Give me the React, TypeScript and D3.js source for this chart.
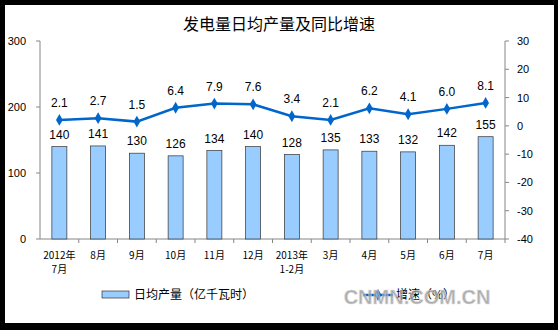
import React from "react";
import * as d3 from "d3";

const categories = ["2012年\n7月", "8月", "9月", "10月", "11月", "12月", "2013年\n1-2月", "3月", "4月", "5月", "6月", "7月"];
const dailyOutput = [140, 141, 130, 126, 134, 140, 128, 135, 133, 132, 142, 155];
const growth = [2.1, 2.7, 1.5, 6.4, 7.9, 7.6, 3.4, 2.1, 6.2, 4.1, 6.0, 8.1];
const leftTicks = [0, 100, 200, 300];
const rightTicks = [30, 20, 10, 0, -10, -20, -30, -40];

const W = 558, H = 330;
const L = 40, R = 505, T = 41, B = 239;
const numFont = "'Liberation Sans', Arial, sans-serif";
const cjkFont = "'Noto Sans CJK SC', 'Liberation Sans', sans-serif";

export default function App() {
  const x = d3.scaleBand<string>().domain(categories.map((_, i) => String(i))).range([L, R]);
  const yL = d3.scaleLinear().domain([0, 300]).range([B, T]);
  const yR = d3.scaleLinear().domain([-40, 30]).range([B, T]);
  const bw = 15;
  const cx = (i: number) => (x(String(i)) as number) + x.bandwidth() / 2;
  const line = d3.line<number>().x((_, i) => cx(i)).y((d) => yR(d));
  const diamond = d3.symbol().type(d3.symbolDiamond).size(40)() as string;

  return (
    <svg width={W} height={H} style={{ position: "absolute", left: 0, top: 0 }}>
      <rect x={0} y={0} width={W} height={H} fill="#000" />
      <rect x={5} y={5} width={549} height={318} fill="#fff" />
      <text x={279} y={30} textAnchor="middle" fontFamily={cjkFont} fontSize={16} fill="#000">发电量日均产量及同比增速</text>

      {/* left axis */}
      <line x1={L} x2={L} y1={T} y2={B} stroke="#868686" />
      {leftTicks.map((t) => (
        <g key={t}>
          <line x1={L - 4} x2={L} y1={yL(t)} y2={yL(t)} stroke="#868686" />
          <text x={L - 14} y={yL(t) + 4} textAnchor="end" fontFamily={numFont} fontSize={11} fill="#000">{t}</text>
        </g>
      ))}
      {/* right axis */}
      <line x1={R} x2={R} y1={T} y2={B} stroke="#868686" />
      {rightTicks.map((t) => (
        <g key={t}>
          <line x1={R} x2={R + 4} y1={yR(t)} y2={yR(t)} stroke="#868686" />
          <text x={R + 12} y={yR(t) + 4} textAnchor="start" fontFamily={numFont} fontSize={11} fill="#000">{t}</text>
        </g>
      ))}
      {/* x axis */}
      <line x1={L} x2={R} y1={B} y2={B} stroke="#868686" />
      {categories.map((c, i) => (
        <line key={"t" + i} x1={(x(String(i)) as number) + x.bandwidth()} x2={(x(String(i)) as number) + x.bandwidth()} y1={B} y2={B + 4} stroke="#868686" />
      ))}
      {categories.map((c, i) => {
        const parts = c.split("\n");
        return (
          <text key={"c" + i} textAnchor="middle" fontFamily={cjkFont} fontSize={10} fill="#000">
            {parts.map((p, j) => (
              <tspan key={j} x={cx(i)} y={259 + j * 14}>{p}</tspan>
            ))}
          </text>
        );
      })}

      {/* bars */}
      {dailyOutput.map((v, i) => (
        <g key={"b" + i}>
          <rect x={cx(i) - bw / 2} y={yL(v)} width={bw} height={B - yL(v)} fill="#99CCFF" stroke="#333" strokeWidth={0.7} />
          <text x={cx(i)} y={yL(v) - 8} textAnchor="middle" fontFamily={numFont} fontSize={12} fill="#000">{v}</text>
        </g>
      ))}

      {/* line */}
      <path d={line(growth) as string} fill="none" stroke="#0066CC" strokeWidth={2.5} />
      {growth.map((v, i) => (
        <g key={"p" + i}>
          <path d={diamond} transform={`translate(${cx(i)},${yR(v)})`} fill="#0066CC" />
          <text x={cx(i)} y={yR(v) - 13} textAnchor="middle" fontFamily={numFont} fontSize={12} fill="#000">{v.toFixed(1)}</text>
        </g>
      ))}

      {/* legend */}
      <rect x={102} y={291} width={27} height={7} fill="#99CCFF" stroke="#333" strokeWidth={0.7} />
      <text x={134} y={299} fontFamily={cjkFont} fontSize={12} fill="#000">日均产量（亿千瓦时）</text>
      <line x1={363} x2={393} y1={295} y2={295} stroke="#0066CC" strokeWidth={2.5} />
      <path d={diamond} transform="translate(378,295)" fill="#0066CC" />
      <text x={396} y={299} fontFamily={cjkFont} fontSize={12} fill="#000">增速（%）</text>
      <text x={417} y={304} textAnchor="middle" fontFamily={numFont} fontSize={20} fontWeight="bold" fill="#9a9a9a" stroke="#d8d8d8" strokeWidth={0.6} opacity={0.8}>CNMN.COM.CN</text>
    </svg>
  );
}
